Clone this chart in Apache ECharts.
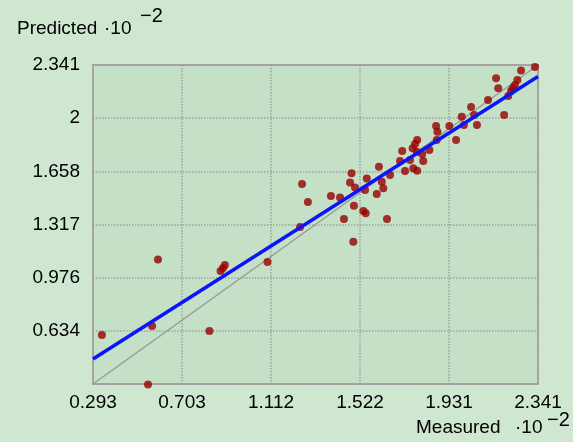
<!DOCTYPE html>
<html><head><meta charset="utf-8">
<script src="https://cdn.jsdelivr.net/npm/echarts@6/dist/echarts.min.js"></script>
<style>html,body{margin:0;padding:0;background:#cfe7d0}#c{width:573px;height:442px}</style>
</head><body><div id="c"></div><script>
const xTickLabels = ['0.293','0.703','1.112','1.522','1.931','2.341'];
const yTickLabels = ['0.293','0.634','0.976','1.317','1.658','2','2.341'];
const X_MIN = 0.293, X_MAX = 2.341, Y_MIN = 0.293, Y_MAX = 2.341;

const measured = [0.334,0.565,0.592,0.546,0.829,0.880,0.891,0.900,1.096,1.246,1.255,1.282,1.388,1.430,1.448,1.483,1.476,1.494,1.491,1.499,1.537,1.548,1.553,1.545,1.609,1.599,1.622,1.629,1.646,1.660,1.706,1.716,1.729,1.785,1.775,1.764,1.783,1.752,1.767,1.808,1.813,1.785,1.841,1.872,1.878,1.875,1.933,1.964,1.990,2.000,2.033,2.047,2.060,2.111,2.148,2.158,2.185,2.204,2.217,2.235,2.246,2.263,2.327,2.225];
const predicted = [0.608,0.665,1.092,0.290,0.633,1.018,1.038,1.057,1.076,1.301,1.577,1.461,1.500,1.490,1.352,1.646,1.587,1.438,1.207,1.555,1.404,1.389,1.612,1.538,1.688,1.513,1.592,1.549,1.352,1.635,1.725,1.789,1.660,1.859,1.834,1.806,1.784,1.731,1.678,1.770,1.725,1.662,1.795,1.949,1.913,1.859,1.949,1.859,2.009,1.956,2.071,2.020,1.956,2.116,2.256,2.191,2.020,2.142,2.174,2.212,2.245,2.306,2.328,2.191];

const fitX = [0.293, 2.341], fitY = [0.454, 2.267];
const refX = [0.293, 2.341], refY = [0.293, 2.341];

const xStep = (X_MAX - X_MIN) / (xTickLabels.length - 1);
const yStep = (Y_MAX - Y_MIN) / (yTickLabels.length - 1);
const tx = v => (v - X_MIN) / xStep;
const ty = v => (v - Y_MIN) / yStep;

const FONT = "'Liberation Sans', Arial, sans-serif";
const FS = 19;
const txt = (s, left, top, fs) => ({ type: 'text', left, top, style: { text: s, fontSize: fs || FS, fontFamily: FONT, fill: '#000' } });
const chart = echarts.init(document.getElementById('c'));
chart.setOption({
  backgroundColor: '#cfe7d0',
  animation: false,
  grid: { left: 93, top: 65, width: 445, height: 319, show: true,
          backgroundColor: '#c4e0c6', borderColor: '#a6a6a6', borderWidth: 2 },
  xAxis: { type: 'value', min: 0, max: xTickLabels.length - 1, interval: 1,
    axisLine: { show: false }, axisTick: { show: false },
    axisLabel: { formatter: v => xTickLabels[Math.round(v)], color: '#000', fontSize: FS, fontFamily: FONT, margin: 9 },
    splitLine: { lineStyle: { type: 'dotted', color: '#a0a0a0', width: 1.5 } } },
  yAxis: { type: 'value', min: 0, max: yTickLabels.length - 1, interval: 1,
    axisLine: { show: false }, axisTick: { show: false },
    axisLabel: { formatter: v => yTickLabels[Math.round(v)], showMinLabel: false, color: '#000', fontSize: FS, fontFamily: FONT, margin: 13 },
    splitLine: { lineStyle: { type: 'dotted', color: '#a0a0a0', width: 1.5 } } },
  graphic: [
    txt('Predicted', 17, 19), txt('·10', 104, 19), txt('−2', 140, 6, 20),
    txt('Measured', 416, 418), txt('·10', 515, 418), txt('−2', 547, 410, 20)
  ],
  series: [
    { type: 'line', data: refX.map((x, i) => [tx(x), ty(refY[i])]), symbol: 'none', silent: true,
      lineStyle: { color: '#9a9a9a', width: 1.5 }, z: 1 },
    { type: 'scatter', data: measured.map((x, i) => [tx(x), ty(predicted[i])]), symbol: 'circle', symbolSize: 8,
      itemStyle: { color: '#990000' }, clip: false, z: 2 },
    { type: 'line', data: fitX.map((x, i) => [tx(x), ty(fitY[i])]), symbol: 'none', silent: true,
      lineStyle: { color: '#0a14ff', width: 3.5 }, z: 3 }
  ]
});
</script></body></html>
